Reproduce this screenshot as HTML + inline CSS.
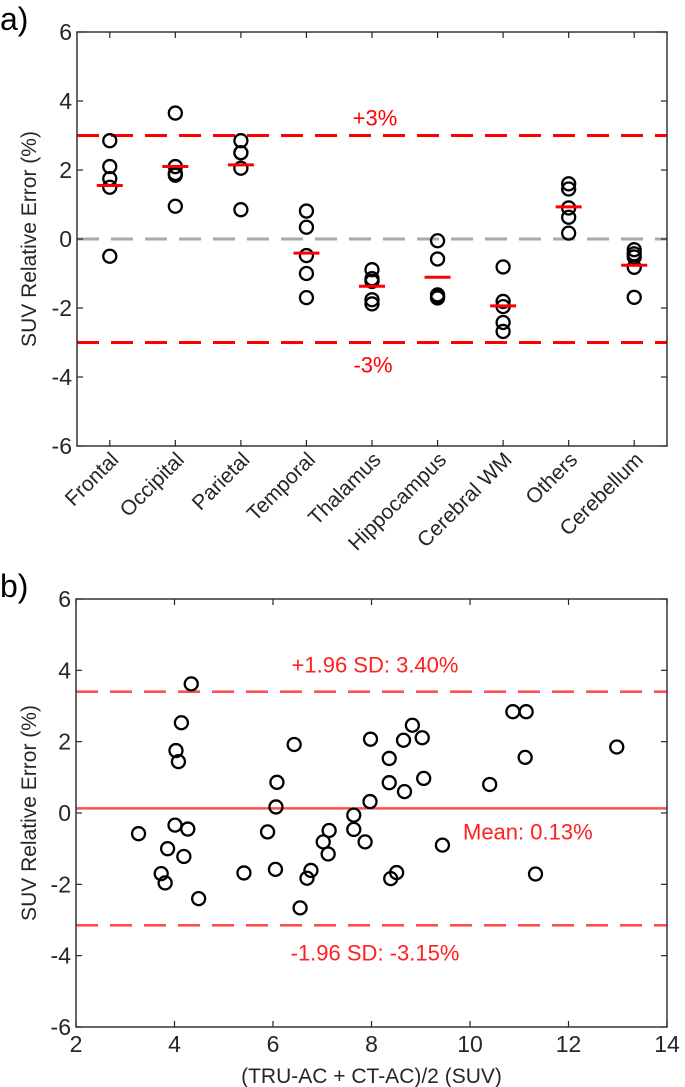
<!DOCTYPE html>
<html><head><meta charset="utf-8"><style>
html,body{margin:0;padding:0;background:#fff;}
svg{display:block;font-family:"Liberation Sans",Arial,sans-serif;}
</style></head><body>
<svg id="fig" width="685" height="1087" viewBox="0 0 685 1087">
<g id="pa"></g>
<g id="pb"></g>
</svg>
<script>
// Panel a data
const categories = ["Frontal","Occipital","Parietal","Temporal","Thalamus","Hippocampus","Cerebral WM","Others","Cerebellum"];
const catPoints = [
 [2.85,2.1,1.75,1.5,-0.5],
 [3.65,2.1,1.9,1.85,0.95],
 [2.85,2.5,2.5,2.05,0.85],
 [0.81,0.34,-0.48,-1.0,-1.7],
 [-0.89,-1.15,-1.23,-1.76,-1.88],
 [-0.05,-0.58,-1.62,-1.68,-1.71],
 [-0.81,-1.81,-1.96,-2.42,-2.68],
 [1.6,1.45,0.9,0.63,0.17],
 [-0.31,-0.43,-0.52,-0.82,-1.69]
];
const catMeans = [1.55,2.1,2.15,-0.41,-1.37,-1.11,-1.94,0.93,-0.76];
const aYTicks = [6,4,2,0,-2,-4,-6];
const aLimits = [3,-3];
// Panel b data
const bX = [3.27,3.73,3.81,3.86,4.01,4.03,4.08,4.14,4.19,4.27,4.34,4.49,5.41,5.89,6.05,6.06,6.08,6.43,6.55,6.69,6.77,7.02,7.12,7.14,7.64,7.64,7.87,7.97,7.98,8.36,8.36,8.39,8.51,8.65,8.67,8.83,9.03,9.06,9.44,10.40,10.87,11.14,11.12,11.33,12.98];
const bY = [-0.58,-1.70,-1.96,-1.00,-0.34,1.75,1.44,2.53,-1.22,-0.45,3.62,-2.40,-1.68,-0.53,-1.58,0.17,0.86,1.92,-2.66,-1.83,-1.61,-0.81,-1.15,-0.49,-0.06,-0.46,-0.81,0.32,2.07,1.53,0.85,-1.84,-1.67,2.04,0.60,2.46,2.11,0.97,-0.90,0.80,2.84,2.84,1.56,-1.71,1.85];
const bXTicks = [2,4,6,8,10,12,14];
const bYTicks = [6,4,2,0,-2,-4,-6];
const bMean = 0.13, bUpper = 3.40, bLower = -3.15;

const NS="http://www.w3.org/2000/svg";
function mk(parent,tag,attrs,text){const e=document.createElementNS(NS,tag);for(const k in attrs)e.setAttribute(k,attrs[k]);if(text!==undefined)e.textContent=text;parent.appendChild(e);return e;}
const AX="#262626";
const TF=23, LF=21, RF=22;

// ---------- Panel a ----------
const pa=document.getElementById('pa');
const aL=77,aR=667,aT=32,aB=446;
const ax=i=>aL+(i+0.5)*(aR-aL)/9;
const ay=v=>aT+(6-v)*(aB-aT)/12;
let e;
e=mk(pa,'text',{x:0,y:30,'font-size':32,fill:'#000'},'a)');


e=mk(pa,'line',{x1:aL,x2:aR,y1:ay(0),y2:ay(0),stroke:'#aaaaaa','stroke-width':3,'stroke-dasharray':'22 12'});


aLimits.forEach(v=>{
 e=mk(pa,'line',{x1:aL,x2:aR,y1:ay(v),y2:ay(v),stroke:'#ff0000','stroke-width':3,'stroke-dasharray':'22 12'});
 
 
});
e=mk(pa,'text',{x:375,y:ay(3)-10,'font-size':RF,fill:'#ff0000','text-anchor':'middle'},'+3%');


e=mk(pa,'text',{x:373,y:ay(-3)+30,'font-size':RF,fill:'#ff0000','text-anchor':'middle'},'-3%');


catPoints.forEach((pts,i)=>{
 pts.forEach(v=>{
  e=mk(pa,'circle',{cx:ax(i),cy:ay(v),r:6.5,fill:'none',stroke:'#000','stroke-width':2.3});
  
  
 });
});
catMeans.forEach((v,i)=>{
 e=mk(pa,'line',{x1:ax(i)-13,x2:ax(i)+13,y1:ay(v),y2:ay(v),stroke:'#ff0000','stroke-width':3});
 
 
});
e=mk(pa,'rect',{x:aL,y:aT,width:aR-aL,height:aB-aT,fill:'none',stroke:AX,'stroke-width':1.4});


aYTicks.forEach(v=>{
 mk(pa,'line',{x1:aL,x2:aL+6,y1:ay(v),y2:ay(v),stroke:AX,'stroke-width':1.2});
 mk(pa,'line',{x1:aR,x2:aR-6,y1:ay(v),y2:ay(v),stroke:AX,'stroke-width':1.2});
 e=mk(pa,'text',{x:aL-5,y:ay(v)+8,'font-size':TF,fill:AX,'text-anchor':'end'},String(v));
 
 
});
categories.forEach((c,i)=>{
 mk(pa,'line',{x1:ax(i),x2:ax(i),y1:aB,y2:aB-6,stroke:AX,'stroke-width':1.2});
 mk(pa,'line',{x1:ax(i),x2:ax(i),y1:aT,y2:aT+6,stroke:AX,'stroke-width':1.2});
 e=mk(pa,'text',{x:0,y:0,'font-size':LF,fill:AX,'text-anchor':'end',transform:`translate(${ax(i)+10},${aB+15}) rotate(-45)`},c);
 
 
});
e=mk(pa,'text',{x:0,y:0,'font-size':LF,fill:AX,'text-anchor':'middle',transform:`translate(36,${(aT+aB)/2}) rotate(-90)`},'SUV Relative Error (%)');



// ---------- Panel b ----------
const pb=document.getElementById('pb');
const bL=76,bR=667,bT=599,bB=1027;
const bx=v=>bL+(v-2)*(bR-bL)/12;
const by=v=>bT+(6-v)*(bB-bT)/12;
e=mk(pb,'text',{x:0,y:597,'font-size':32,fill:'#000'},'b)');


const LR='#ff5050';
e=mk(pb,'line',{x1:bL,x2:bR,y1:by(bUpper),y2:by(bUpper),stroke:LR,'stroke-width':2.6,'stroke-dasharray':'22 12'});


e=mk(pb,'line',{x1:bL,x2:bR,y1:by(bLower),y2:by(bLower),stroke:LR,'stroke-width':2.6,'stroke-dasharray':'22 12'});


e=mk(pb,'line',{x1:bL,x2:bR,y1:by(bMean),y2:by(bMean),stroke:LR,'stroke-width':2.6});


e=mk(pb,'text',{x:375,y:by(bUpper)-19,'font-size':RF,fill:'#ff2020','text-anchor':'middle'},'+1.96 SD: '+bUpper.toFixed(2)+'%');


e=mk(pb,'text',{x:463,y:by(bMean)+31,'font-size':RF,fill:'#ff2020'},'Mean: '+bMean.toFixed(2)+'%');


e=mk(pb,'text',{x:375,y:by(bLower)+35,'font-size':RF,fill:'#ff2020','text-anchor':'middle'},'-1.96 SD: '+bLower.toFixed(2)+'%');


bX.forEach((x,i)=>{
 e=mk(pb,'circle',{cx:bx(x),cy:by(bY[i]),r:6.5,fill:'none',stroke:'#000','stroke-width':2.3});
 
 
});
e=mk(pb,'rect',{x:bL,y:bT,width:bR-bL,height:bB-bT,fill:'none',stroke:AX,'stroke-width':1.4});


bYTicks.forEach(v=>{
 mk(pb,'line',{x1:bL,x2:bL+6,y1:by(v),y2:by(v),stroke:AX,'stroke-width':1.2});
 mk(pb,'line',{x1:bR,x2:bR-6,y1:by(v),y2:by(v),stroke:AX,'stroke-width':1.2});
 e=mk(pb,'text',{x:bL-5,y:by(v)+8,'font-size':TF,fill:AX,'text-anchor':'end'},String(v));
 
 
});
bXTicks.forEach(v=>{
 mk(pb,'line',{x1:bx(v),x2:bx(v),y1:bB,y2:bB-6,stroke:AX,'stroke-width':1.2});
 mk(pb,'line',{x1:bx(v),x2:bx(v),y1:bT,y2:bT+6,stroke:AX,'stroke-width':1.2});
 e=mk(pb,'text',{x:bx(v),y:bB+25,'font-size':TF,fill:AX,'text-anchor':'middle'},String(v));
 
 
});
e=mk(pb,'text',{x:(bL+bR)/2,y:1083,'font-size':LF,fill:AX,'text-anchor':'middle'},'(TRU-AC + CT-AC)/2 (SUV)');


e=mk(pb,'text',{x:0,y:0,'font-size':LF,fill:AX,'text-anchor':'middle',transform:`translate(36,${(bT+bB)/2}) rotate(-90)`},'SUV Relative Error (%)');


</script>
</body></html>
